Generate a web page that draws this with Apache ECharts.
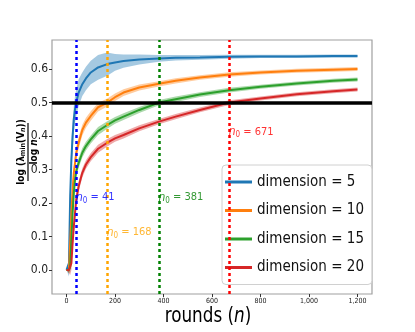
<!DOCTYPE html>
<html><head><meta charset="utf-8">
<script src="https://cdn.jsdelivr.net/npm/echarts@6/dist/echarts.min.js"></script>
<style>html,body{margin:0;padding:0;background:#fff}#c{width:415px;height:332px}</style>
</head><body><div id="c"></div>
<script>
const rounds = [0,5,10,15,20,25,30,35,40,50,65,80,100,130,168,200,235,300,381,450,550,671,800,950,1100,1200];
const dim5  = [0,0,0.02,0.22,0.33,0.40,0.45,0.48,0.50,0.53,0.555,0.572,0.59,0.605,0.615,0.62,0.624,0.629,0.632,0.634,0.635,0.637,0.638,0.638,0.639,0.639];
const dim10 = [0,0,0,0.08,0.17,0.24,0.29,0.32,0.35,0.38,0.418,0.44,0.46,0.486,0.50,0.516,0.53,0.545,0.556,0.565,0.575,0.584,0.59,0.595,0.598,0.60];
const dim15 = [0,0,0,0.01,0.09,0.17,0.23,0.27,0.295,0.32,0.35,0.37,0.39,0.415,0.433,0.447,0.458,0.478,0.50,0.51,0.524,0.537,0.547,0.557,0.565,0.569];
const dim20 = [0,0,0,0,0.02,0.08,0.13,0.17,0.21,0.25,0.29,0.315,0.337,0.362,0.38,0.393,0.403,0.423,0.443,0.458,0.478,0.50,0.512,0.525,0.534,0.539];
const band5  = [0,0.01,0.04,0.05,0.05,0.045,0.04,0.04,0.04,0.04,0.035,0.035,0.035,0.037,0.035,0.025,0.02,0.015,0.01,0.008,0.007,0.006,0.005,0.005,0.005,0.005];
const band10 = [0,0.005,0.01,0.02,0.02,0.02,0.02,0.02,0.018,0.018,0.016,0.015,0.014,0.013,0.012,0.011,0.01,0.009,0.008,0.008,0.007,0.007,0.006,0.006,0.006,0.006];
const band15 = [0,0.005,0.01,0.015,0.02,0.02,0.02,0.018,0.016,0.015,0.014,0.013,0.012,0.012,0.011,0.01,0.01,0.009,0.008,0.008,0.007,0.007,0.006,0.006,0.006,0.006];
const band20 = [0,0.005,0.01,0.015,0.02,0.02,0.02,0.018,0.016,0.015,0.014,0.013,0.012,0.012,0.011,0.01,0.01,0.009,0.008,0.008,0.007,0.007,0.006,0.006,0.006,0.006];
const seriesNames = ['dimension = 5','dimension = 10','dimension = 15','dimension = 20'];
const colors = ['#1f77b4','#ff7f0e','#2ca02c','#d62728'];
const bandColors = ['rgba(31,119,180,0.4)','rgba(255,127,14,0.4)','rgba(44,160,44,0.4)','rgba(214,39,40,0.4)'];
const n0Values = [41,168,381,671];
const n0Colors = ['#0000ff','#ffa500','#008000','#ff0000'];
const n0LabelY = [0.215,0.11,0.215,0.41];
const threshold = 0.5;
const xTicks = [0,200,400,600,800,1000,1200];
const yTicks = [0,0.1,0.2,0.3,0.4,0.5,0.6];

const F = "'Liberation Sans Narrow','DejaVu Sans Condensed','Liberation Sans',sans-serif";
const means = [dim5,dim10,dim15,dim20];
const bands = [band5,band10,band15,band20];

const chart = echarts.init(document.getElementById('c'), null, {renderer:'canvas'});
const series = [];
means.forEach((m,k)=>{
  series.push({
    type:'custom', name:'band'+k, silent:true, z:1, clip:true,
    data:[[rounds[0], m[0]]],
    renderItem:(params, api)=>{
      const pts=[];
      for(let i=0;i<rounds.length;i++) pts.push(api.coord([rounds[i], m[i]+bands[k][i]]));
      for(let i=rounds.length-1;i>=0;i--) pts.push(api.coord([rounds[i], m[i]-bands[k][i]]));
      return {type:'polygon', shape:{points:pts}, style:{fill:bandColors[k]}};
    }
  });
});
means.forEach((m,k)=>{
  series.push({
    type:'line', name:seriesNames[k], z:3, showSymbol:false, symbol:'none',
    data: rounds.map((r,i)=>[r,m[i]]),
    lineStyle:{color:colors[k], width:2}, itemStyle:{color:colors[k]}
  });
});
series.push({
  type:'line', name:'refs', data:[], z:5, silent:true,
  markLine:{symbol:'none', silent:true, label:{show:false},
    data:[
      ...n0Values.map((v,k)=>({xAxis:v, lineStyle:{color:n0Colors[k], type:[3,3], width:2.5}})),
      {yAxis:threshold, lineStyle:{color:'#000', type:'solid', width:3.5}}
    ]}
});
series.push({
  type:'scatter', name:'notes', z:6, silent:true, symbolSize:1,
  itemStyle:{color:'transparent'},
  data: n0Values.map((v,k)=>({value:[v,n0LabelY[k]], label:{color:n0Colors[k]}})),
  label:{show:true, position:[0,0], align:'left', verticalAlign:'middle', fontFamily:F, fontSize:11,
    formatter:(p)=>'{i|n}{s|0} = '+p.value[0],
    rich:{i:{fontStyle:'italic', fontFamily:F, fontSize:12}, s:{fontFamily:F, fontSize:8, verticalAlign:'bottom', padding:[6,0,0,0]}}}
});

chart.setOption({
  animation:false,
  backgroundColor:'#fff',
  grid:{left:52, right:43, top:40, bottom:38, show:true, borderColor:'#a0a0a0', borderWidth:1.2, backgroundColor:'transparent'},
  xAxis:{type:'value', min:-60, max:1260,
    axisLine:{show:false, onZero:false}, splitLine:{show:false},
    axisTick:{show:true, customValues:xTicks, length:3, lineStyle:{color:'#333'}},
    axisLabel:{customValues:xTicks, fontFamily:F, fontSize:7, color:'#222', margin:4}},
  yAxis:{type:'value', min:-0.072, max:0.687,
    axisLine:{show:false, onZero:false}, splitLine:{show:false},
    axisTick:{show:true, customValues:yTicks, length:3, lineStyle:{color:'#333'}},
    axisLabel:{customValues:yTicks, fontFamily:F, fontSize:12, color:'#222', margin:4, formatter:(v)=>v.toFixed(1)}},
  legend:{data:seriesNames.map((n,k)=>({name:n, icon:'rect', itemStyle:{color:colors[k]}})),
    orient:'vertical', left:222, top:165, itemWidth:27, itemHeight:3, itemGap:10.5,
    padding:[8,8,8,3], backgroundColor:'rgba(255,255,255,0.8)', borderColor:'#d0d0d0', borderWidth:1, borderRadius:4,
    textStyle:{fontFamily:F, fontSize:15, color:'#111', lineHeight:18}},
  graphic:[
    {type:'group', x:28, y:152, rotation:Math.PI/2, children:[
      {type:'text', x:0, y:-1, style:{text:'log (λ{s|min}(V{si|n}))', align:'center', verticalAlign:'bottom',
        font:"bold 10px 'DejaVu Sans Condensed'", fill:'#000',
        rich:{s:{fontSize:7, fontWeight:'bold', fontFamily:'DejaVu Sans Condensed', padding:[4,0,0,0]},
              si:{fontSize:7, fontWeight:'bold', fontStyle:'italic', fontFamily:'DejaVu Sans Condensed', padding:[4,0,0,0]}}}},
      {type:'line', shape:{x1:-29, y1:0, x2:29, y2:0}, style:{stroke:'#000', lineWidth:1.2}},
      {type:'text', x:0, y:1, style:{text:'log {i|n}', align:'center', verticalAlign:'top',
        font:"bold 10px 'DejaVu Sans Condensed'", fill:'#000', rich:{i:{fontStyle:'italic', fontWeight:'bold', fontSize:10, fontFamily:'DejaVu Sans Condensed'}}}}
    ]},
    {type:'text', x:208, y:316, scaleX:0.85, style:{text:'rounds ({i|n})', align:'center', verticalAlign:'middle',
      font:"22px "+F, fill:'#000', rich:{i:{fontStyle:'italic', fontSize:22, fontFamily:F}}}}
  ],
  series:series
});
</script></body></html>
